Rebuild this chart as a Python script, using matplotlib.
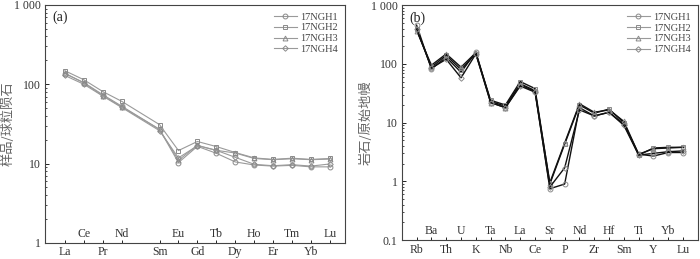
import matplotlib
matplotlib.use('Agg')
import matplotlib.pyplot as plt
from matplotlib.ticker import FixedLocator, FixedFormatter, LogLocator, NullFormatter

# Dane - wykres (a), REE znormalizowane do chondrytu (Pm pominiety, zostaje luka)
ree = ['La', 'Ce', 'Pr', 'Nd', 'Pm', 'Sm', 'Eu', 'Gd', 'Tb', 'Dy', 'Ho', 'Er', 'Tm', 'Yb', 'Lu']
ngh1_a = [136, 105, 74, 53, None, 27, 10.3, 16.5, 13.5, 10.5, 9.6, 9.3, 9.5, 9.1, 9.1]
ngh2_a = [148, 114, 81, 61, None, 31, 14.6, 19.0, 16.4, 13.8, 11.8, 11.3, 11.7, 11.3, 11.6]
ngh3_a = [138, 104, 72, 52, None, 27, 11.0, 17.0, 14.7, 13.6, 11.6, 11.2, 11.5, 11.2, 11.4]
ngh4_a = [129, 100, 71, 51, None, 26, 11.8, 16.8, 14.7, 12.0, 9.8, 9.4, 9.7, 9.3, 9.9]

# Dane - wykres (b), pierwiastki sladowe znormalizowane do prymitywnego plaszcza
trace = ['Rb', 'Ba', 'Th', 'U', 'K', 'Ta', 'Nb', 'La', 'Ce', 'Sr', 'P', 'Nd', 'Zr', 'Hf', 'Sm', 'Ti', 'Y', 'Yb', 'Lu']
ngh1_b = [457, 82, 130, 72, 160, 23, 19, 46, 35, 0.75, 0.9, 18, 13, 15, 9.5, 2.9, 2.7, 3.1, 3.1]
ngh2_b = [390, 88, 140, 80, 150, 24, 20, 50, 38, 0.9, 4.3, 20, 14.5, 17, 10, 2.8, 3.7, 3.8, 3.8]
ngh3_b = [370, 95, 148, 88, 155, 22, 18, 44, 34, 0.95, 4.5, 21, 15, 16.5, 10.5, 2.9, 3.6, 3.7, 3.8]
ngh4_b = [400, 85, 120, 58, 148, 22, 18, 42, 33, 0.8, 1.7, 16.5, 13, 15, 9, 2.8, 3.0, 3.2, 3.3]

nazwy = ['17NGH1', '17NGH2', '17NGH3', '17NGH4']
markery = ['o', 's', '^', 'D']

serif = 'Liberation Serif'
cjk = ['Noto Sans CJK SC', 'DejaVu Sans']
szary = '#8a8a8a'
tekst = '#333333'

fig = plt.figure(figsize=(7, 2.59), dpi=100)
ax1 = fig.add_axes([0.0643, 0.062, 0.4286, 0.919])
ax2 = fig.add_axes([0.574, 0.073, 0.423, 0.907])


def rozmiar(m):
    return 2.8 if m == 'D' else 3.5


def rysuj_serie(ax, x, y, marker, kolor_linii, lw):
    xs = [xi for xi, yi in zip(x, y) if yi is not None]
    ys = [yi for yi in y if yi is not None]
    ax.plot(xs, ys, color=kolor_linii, lw=lw, marker=marker, ms=rozmiar(marker),
            mfc='none', mec=szary, mew=0.7)


def osie(ax, etykiety, ylim, yticks, ytick_labels, ylabel, panel, ylab_x):
    # pozycje bez pustych miejsc (Pm), etykiety na przemian: dol / w srodku
    poz = [i for i, e in enumerate(etykiety) if e != 'Pm']
    nazwy_poz = [etykiety[i] for i in poz]
    ax.set_yscale('log')
    ax.set_ylim(*ylim)
    ax.yaxis.set_major_locator(FixedLocator(yticks))
    ax.yaxis.set_major_formatter(FixedFormatter(ytick_labels))
    ax.yaxis.set_minor_locator(LogLocator(base=10, subs=range(2, 10)))
    ax.yaxis.set_minor_formatter(NullFormatter())
    ax.tick_params(axis='y', which='major', direction='in', length=3, width=0.6,
                   labelsize=8.5, pad=3)
    ax.tick_params(axis='y', which='minor', direction='in', length=1.5, width=0.5)
    ax.tick_params(axis='x', direction='in', length=2.5, width=0.6, labelsize=8.5, pad=2.5)
    ax.set_xticks(poz)
    ax.set_xticklabels([e if k % 2 == 0 else '' for k, e in enumerate(nazwy_poz)])
    for k, (i, e) in enumerate(zip(poz, nazwy_poz)):
        if k % 2 == 1:
            ax.text(i, 0.038, e, transform=ax.get_xaxis_transform(), ha='center',
                    va='center', fontsize=8.5, family=serif, color=tekst)
    for lab in ax.get_xticklabels() + ax.get_yticklabels():
        lab.set_family(serif)
        lab.set_color(tekst)
    for s in ax.spines.values():
        s.set_linewidth(0.8)
        s.set_color('#444444')
    ax.set_ylabel(ylabel, family=cjk, fontsize=9.5, color='#666666')
    ax.yaxis.set_label_coords(ylab_x, 0.5)
    ax.text(0.025, 0.975, panel, transform=ax.transAxes, ha='left', va='top',
            fontsize=10, family=serif, color='#222222')


# Wykres (a)
x_a = list(range(len(ree)))
for y, m in zip([ngh1_a, ngh2_a, ngh3_a, ngh4_a], markery):
    rysuj_serie(ax1, x_a, y, m, '#9a9a9a', 0.8)
osie(ax1, ree, (1, 1000), [1, 10, 100, 1000], ['1', '10', '100', '1 000'],
     '样品/球粒陨石', '(a)', -0.10)
ax1.set_xlim(-1.05, 14.8)

# Wykres (b)
x_b = list(range(len(trace)))
for y, m in zip([ngh1_b, ngh2_b, ngh3_b, ngh4_b], markery):
    rysuj_serie(ax2, x_b, y, m, '#111111', 1.0)
osie(ax2, trace, (0.1, 1000), [0.1, 1, 10, 100, 1000], ['0.1', '1', '10', '100', '1 000'],
     '岩石/原始地幔', '(b)', -0.098)
ax2.set_xlim(-1, 19)

# Legendy
for ax in (ax1, ax2):
    uchwyty = [plt.Line2D([], [], color='#9a9a9a', lw=0.8, marker=m, ms=rozmiar(m),
                          mfc='none', mec=szary, mew=0.7)
               for m in markery]
    ax.legend(uchwyty, nazwy, loc='upper right', frameon=False,
              prop={'family': serif, 'size': 7.5}, handlelength=2.2, handletextpad=0.3,
              labelspacing=0.15, borderaxespad=0.3, labelcolor='#444444')

fig.savefig('out.png', dpi=100)
